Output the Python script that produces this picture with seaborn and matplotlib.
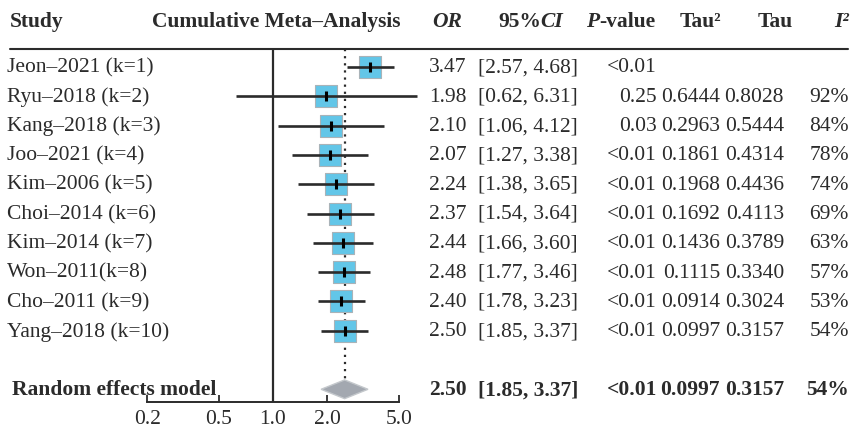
import matplotlib
matplotlib.use("Agg")
import matplotlib.pyplot as plt
import matplotlib.transforms as mtransforms
from matplotlib.patches import Polygon
from matplotlib.ticker import FixedLocator, NullLocator, FixedFormatter
import numpy as np
import pandas as pd
import seaborn as sns

# ---------------- data ----------------
studies = ["Jeon–2021 (k=1)", "Ryu–2018 (k=2)", "Kang–2018 (k=3)", "Joo–2021 (k=4)",
           "Kim–2006 (k=5)", "Choi–2014 (k=6)", "Kim–2014 (k=7)", "Won–2011(k=8)",
           "Cho–2011 (k=9)", "Yang–2018 (k=10)"]
or_vals = [3.47, 1.98, 2.10, 2.07, 2.24, 2.37, 2.44, 2.48, 2.40, 2.50]
ci_low = [2.57, 0.62, 1.06, 1.27, 1.38, 1.54, 1.66, 1.77, 1.78, 1.85]
ci_high = [4.68, 6.31, 4.12, 3.38, 3.65, 3.64, 3.60, 3.46, 3.23, 3.37]
p_values = ["<0.01", "0.25", "0.03", "<0.01", "<0.01", "<0.01", "<0.01", "<0.01", "<0.01", "<0.01"]
tau2_vals = ["", "0.6444", "0.2963", "0.1861", "0.1968", "0.1692", "0.1436", "0.1115", "0.0914", "0.0997"]
tau_vals = ["", "0.8028", "0.5444", "0.4314", "0.4436", "0.4113", "0.3789", "0.3340", "0.3024", "0.3157"]
i2_vals = ["", "92%", "84%", "78%", "74%", "69%", "63%", "57%", "53%", "54%"]

summary_label = "Random effects model"
summary_or = 2.50
summary_low = 1.85
summary_high = 3.37
summary_p = "<0.01"
summary_tau2 = "0.0997"
summary_tau = "0.3157"
summary_i2 = "54%"

x_ticks = [0.2, 0.5, 1.0, 2.0, 5.0]
x_tick_labels = ["0.2", "0.5", "1.0", "2.0", "5.0"]

# ---------------- style ----------------
sns.set_theme(style="white")
plt.rcParams["font.family"] = ["Liberation Serif", "DejaVu Serif"]
FS = 15.5
HFS = 15.5
DARK = "#2b2b2b"
BOX = "#62c6e8"

W, H = 851, 435
fig = plt.figure(figsize=(W / 100, H / 100), dpi=100)

# overlay axes in pixel coordinates for text / header line
tax = fig.add_axes([0, 0, 1, 1])
tax.set_xlim(0, W)
tax.set_ylim(H, 0)
tax.axis("off")

# forest axes
y0_px, row_px = 68.0, 29.3
left_px, right_px, top_px, bot_px = 140, 425, 50, 403
ax = fig.add_axes([left_px / W, (H - bot_px) / H, (right_px - left_px) / W, (bot_px - top_px) / H])
ax.set_xscale("log")
px_per_dec = 180.0
x1_px = 273.0
ax.set_xlim(10 ** ((left_px - x1_px) / px_per_dec), 10 ** ((right_px - x1_px) / px_per_dec))
ax.set_ylim((bot_px - y0_px) / row_px, (top_px - y0_px) / row_px)
ax.patch.set_alpha(0)

n = len(studies)
rows = np.arange(n)
sum_row = n + 1

df = pd.DataFrame({"study": studies, "OR": or_vals, "low": ci_low, "high": ci_high, "row": rows})

# reference lines
ax.axvline(1.0, color=DARK, lw=1.6, zorder=1)
ax.plot([summary_or, summary_or], [ax.get_ylim()[1], sum_row - 0.3], color=DARK, lw=1.6,
        ls=(0, (1, 2.2)), zorder=1)

# boxes
sns.scatterplot(data=df, x="OR", y="row", marker="s", s=15.3 ** 2, color=BOX,
                edgecolor="#a9b3b8", linewidth=0.8, ax=ax, zorder=2, legend=False)
# CI lines
ax.hlines(df["row"], df["low"], df["high"], color=DARK, lw=1.9, zorder=3)
# point estimate tick
ax.plot(df["OR"], df["row"], marker="|", ls="none", ms=7, mew=2.2, color="black", zorder=4)

# summary diamond
hh = 0.32
diamond = Polygon([[summary_low, sum_row], [summary_or, sum_row - hh],
                   [summary_high, sum_row], [summary_or, sum_row + hh]],
                  closed=True, facecolor="#a3a8b0", edgecolor="#c4c8cc", lw=1.0, zorder=3)
ax.add_patch(diamond)

# axes styling
for s in ["top", "left", "right"]:
    ax.spines[s].set_visible(False)
ax.spines["bottom"].set_bounds(x_ticks[0], x_ticks[-1])
ax.spines["bottom"].set_color(DARK)
ax.spines["bottom"].set_linewidth(1.4)
ax.xaxis.set_major_locator(FixedLocator(x_ticks))
ax.xaxis.set_major_formatter(FixedFormatter(x_tick_labels))
ax.xaxis.set_minor_locator(NullLocator())
ax.tick_params(axis="x", direction="in", length=5, width=1.3, color=DARK, pad=5,
               labelsize=FS, labelcolor=DARK, bottom=True)
ax.set_yticks([])
ax.set_xlabel("")
ax.set_ylabel("")

# text
trans = mtransforms.blended_transform_factory(tax.transData, ax.transData)
txt = dict(fontsize=FS, color=DARK, va="center", transform=trans)

hdr_row = (22 - y0_px) / row_px
bold = dict(txt, fontweight="bold")
hbold = dict(bold, fontsize=HFS)
tax.text(10, hdr_row, "Study", ha="left", **hbold)
tax.text(152, hdr_row, "Cumulative Meta–Analysis", ha="left", **hbold)
tax.text(432, hdr_row, "OR", ha="left", style="italic", **hbold)
tax.text(541, hdr_row, "95%", ha="right", **hbold)
tax.text(540, hdr_row, "CI", ha="left", style="italic", **hbold)
tax.text(586, hdr_row, "P", ha="left", style="italic", **hbold)
tax.text(599, hdr_row, "-value", ha="left", **hbold)
tax.text(721, hdr_row, "Tau²", ha="right", **hbold)
tax.text(793, hdr_row, "Tau", ha="right", **hbold)
tax.text(849, hdr_row, "I²", ha="right", style="italic", **hbold)

# header rule
tax.plot([10, 848], [50, 50], color=DARK, lw=1.5)

for i in range(n):
    tax.text(7, i, studies[i], ha="left", **txt)
    tax.text(429, i, f"{or_vals[i]:.2f}", ha="left", **txt)
    tax.text(478, i, f"[{ci_low[i]:.2f}, {ci_high[i]:.2f}]", ha="left", **txt)
    tax.text(657, i, p_values[i], ha="right", **txt)
    tax.text(720, i, tau2_vals[i], ha="right", **txt)
    tax.text(784, i, tau_vals[i], ha="right", **txt)
    tax.text(849, i, i2_vals[i], ha="right", **txt)

tax.text(12, sum_row, summary_label, ha="left", **bold)
tax.text(429, sum_row, f"{summary_or:.2f}", ha="left", **bold)
tax.text(478, sum_row, f"[{summary_low:.2f}, {summary_high:.2f}]", ha="left", **bold)
tax.text(657, sum_row, summary_p, ha="right", **bold)
tax.text(720, sum_row, summary_tau2, ha="right", **bold)
tax.text(784, sum_row, summary_tau, ha="right", **bold)
tax.text(849, sum_row, summary_i2, ha="right", **bold)

fig.savefig("out.png", dpi=100, facecolor="white")
